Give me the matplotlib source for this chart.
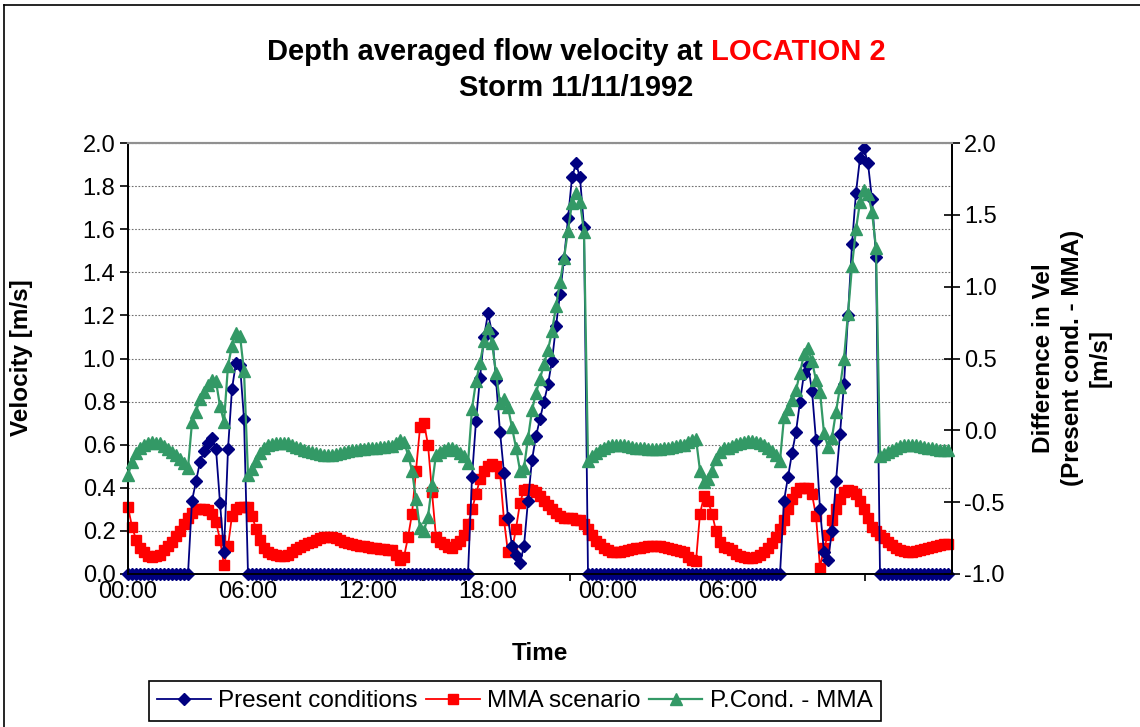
import matplotlib
matplotlib.use("Agg")
import matplotlib.pyplot as plt
import numpy as np
from matplotlib.lines import Line2D
from matplotlib.ticker import FixedLocator, FormatStrFormatter

plt.rcParams["font.family"] = ["Liberation Sans", "DejaVu Sans"]
plt.rcParams["axes.unicode_minus"] = False

# Records every 12 minutes, starting 11/11/1992 00:00
STEP_HOURS = 0.2

# Depth averaged velocity [m/s], present conditions
present = [
    0.0, 0.0, 0.0, 0.0, 0.0, 0.0, 0.0, 0.0, 0.0, 0.0,
    0.0, 0.0, 0.0, 0.0, 0.0, 0.0, 0.34, 0.43, 0.52, 0.57,
    0.61, 0.63, 0.58, 0.33, 0.10, 0.58, 0.86, 0.98, 0.97, 0.72,
    0.0, 0.0, 0.0, 0.0, 0.0, 0.0, 0.0, 0.0, 0.0, 0.0,
    0.0, 0.0, 0.0, 0.0, 0.0, 0.0, 0.0, 0.0, 0.0, 0.0,
    0.0, 0.0, 0.0, 0.0, 0.0, 0.0, 0.0, 0.0, 0.0, 0.0,
    0.0, 0.0, 0.0, 0.0, 0.0, 0.0, 0.0, 0.0, 0.0, 0.0,
    0.0, 0.0, 0.0, 0.0, 0.0, 0.0, 0.0, 0.0, 0.0, 0.0,
    0.0, 0.0, 0.0, 0.0, 0.0, 0.0, 0.45, 0.71, 0.91, 1.10,
    1.21, 1.12, 0.90, 0.66, 0.47, 0.26, 0.13, 0.09, 0.05, 0.13,
    0.34, 0.53, 0.64, 0.72, 0.80, 0.88, 0.99, 1.15, 1.30, 1.46,
    1.65, 1.84, 1.905, 1.84, 1.61, 0.0, 0.0, 0.0, 0.0, 0.0,
    0.0, 0.0, 0.0, 0.0, 0.0, 0.0, 0.0, 0.0, 0.0, 0.0,
    0.0, 0.0, 0.0, 0.0, 0.0, 0.0, 0.0, 0.0, 0.0, 0.0,
    0.0, 0.0, 0.0, 0.0, 0.0, 0.0, 0.0, 0.0, 0.0, 0.0,
    0.0, 0.0, 0.0, 0.0, 0.0, 0.0, 0.0, 0.0, 0.0, 0.0,
    0.0, 0.0, 0.0, 0.0, 0.34, 0.45, 0.56, 0.66, 0.80, 0.93,
    0.97, 0.85, 0.62, 0.30, 0.10, 0.065, 0.20, 0.43, 0.65, 0.88,
    1.20, 1.53, 1.77, 1.93, 1.975, 1.905, 1.74, 1.47, 0.0, 0.0,
    0.0, 0.0, 0.0, 0.0, 0.0, 0.0, 0.0, 0.0, 0.0, 0.0,
    0.0, 0.0, 0.0, 0.0, 0.0, 0.0,
]

# Depth averaged velocity [m/s], MMA scenario
mma = [
    0.31, 0.22, 0.16, 0.12, 0.10, 0.085, 0.08, 0.085, 0.09, 0.11,
    0.13, 0.15, 0.175, 0.20, 0.23, 0.26, 0.285, 0.30, 0.30, 0.30,
    0.295, 0.28, 0.24, 0.16, 0.04, 0.13, 0.27, 0.30, 0.31, 0.31,
    0.31, 0.27, 0.21, 0.16, 0.12, 0.10, 0.095, 0.09, 0.085, 0.085,
    0.09, 0.10, 0.115, 0.125, 0.135, 0.145, 0.15, 0.16, 0.165, 0.17,
    0.17, 0.17, 0.165, 0.16, 0.15, 0.145, 0.14, 0.135, 0.13, 0.13,
    0.125, 0.12, 0.12, 0.115, 0.115, 0.11, 0.11, 0.09, 0.065, 0.08,
    0.17, 0.28, 0.48, 0.68, 0.70, 0.60, 0.38, 0.17, 0.15, 0.14,
    0.125, 0.12, 0.14, 0.155, 0.18, 0.23, 0.30, 0.37, 0.44, 0.48,
    0.50, 0.51, 0.50, 0.47, 0.25, 0.10, 0.11, 0.21, 0.33, 0.39,
    0.395, 0.39, 0.38, 0.36, 0.34, 0.32, 0.30, 0.285, 0.27, 0.26,
    0.26, 0.26, 0.25, 0.25, 0.23, 0.21, 0.18, 0.155, 0.14, 0.12,
    0.11, 0.10, 0.10, 0.10, 0.105, 0.11, 0.115, 0.12, 0.12, 0.125,
    0.13, 0.13, 0.13, 0.13, 0.125, 0.12, 0.115, 0.11, 0.105, 0.10,
    0.08, 0.065, 0.06, 0.28, 0.36, 0.34, 0.28, 0.20, 0.15, 0.125,
    0.12, 0.11, 0.095, 0.085, 0.08, 0.075, 0.075, 0.08, 0.09, 0.10,
    0.12, 0.145, 0.17, 0.21, 0.25, 0.30, 0.35, 0.38, 0.40, 0.40,
    0.40, 0.37, 0.27, 0.03, 0.12, 0.18, 0.25, 0.30, 0.35, 0.38,
    0.39, 0.385, 0.37, 0.34, 0.30, 0.26, 0.22, 0.20, 0.18, 0.165,
    0.15, 0.135, 0.12, 0.11, 0.105, 0.10, 0.10, 0.105, 0.11, 0.115,
    0.12, 0.125, 0.13, 0.135, 0.14, 0.14,
]

time_tick_hours = [0, 6, 12, 18, 24, 30]
time_tick_labels = ["00:00", "06:00", "12:00", "18:00", "00:00", "06:00"]

series_names = ["Present conditions", "MMA scenario", "P.Cond. - MMA"]

hours = np.arange(len(present)) * STEP_HOURS
difference = np.array(present) - np.array(mma)

W, H = 1140, 727
fig = plt.figure(figsize=(W / 100, H / 100), dpi=100)
fig.patch.set_facecolor("white")

# chart-area frame
fig.add_artist(Line2D([4 / W, 1.0], [1 - 5 / H, 1 - 5 / H], color="black", lw=1.2))
fig.add_artist(Line2D([4 / W, 4 / W], [0.0, 1 - 5 / H], color="black", lw=1.2))

ax = fig.add_axes([128 / W, 153 / H, 824 / W, 431 / H])
ax2 = ax.twinx()

BLUE, RED, GREEN = "#000080", "#FF0000", "#339966"

l1, = ax.plot(hours, present, color=BLUE, lw=1.3, marker="D", ms=6.3,
              mec=BLUE, mfc=BLUE, clip_on=False, zorder=3)
l2, = ax.plot(hours, mma, color=RED, lw=1.3, marker="s", ms=6.5,
              mec=RED, mfc=RED, clip_on=False, zorder=2)
l3, = ax2.plot(hours, difference, color=GREEN, lw=1.6, marker="^", ms=8.5,
               mec=GREEN, mfc=GREEN, clip_on=False, zorder=3)

ax.set_xlim(0, 41.2)
ax.set_ylim(0, 2.0)
ax2.set_ylim(-1.0, 2.0)

# horizontal gridlines on the velocity axis
ax.set_yticks(np.arange(0, 2.01, 0.2))
ax.yaxis.set_major_formatter(FormatStrFormatter("%.1f"))
ax.yaxis.grid(True, linestyle=(0, (1.5, 1.5)), color="#707070", lw=0.8)
ax.set_axisbelow(True)

ax2.set_yticks(np.arange(-1.0, 2.01, 0.5))
ax2.yaxis.set_major_formatter(FormatStrFormatter("%.1f"))

# time labels every six hours, tick marks on their own spacing
ax.set_xticks(time_tick_hours)
ax.set_xticklabels(time_tick_labels)
ax.xaxis.set_minor_locator(FixedLocator(np.arange(0, 41.2, 7.37)))
ax.tick_params(axis="x", which="major", length=0, pad=5, labelsize=17)
ax.tick_params(axis="x", which="minor", length=5, width=1.2, direction="out")
ax.tick_params(axis="y", which="major", length=6, width=1.2, direction="out",
               pad=3, labelsize=17)
ax2.tick_params(axis="y", which="major", length=11, width=1.2, direction="inout",
                pad=3, labelsize=17)

for a in (ax, ax2):
    a.spines["top"].set_color("#909090")
    a.spines["top"].set_linewidth(1.5)
    for s in ("left", "right", "bottom"):
        a.spines[s].set_color("black")
        a.spines[s].set_linewidth(1.3)
ax.set_facecolor("white")

# titles, built from two coloured parts on the first line
TITLE_SIZE = 21
y1 = 1 - 52 / H
t1 = fig.text(0, y1, "Depth averaged flow velocity at", fontsize=TITLE_SIZE,
              fontweight="bold", ha="left", va="center", color="black")
t2 = fig.text(0, y1, "LOCATION 2", fontsize=TITLE_SIZE, fontweight="bold",
              ha="left", va="center", color="#FF0000")
renderer = fig.canvas.get_renderer()
w1 = t1.get_window_extent(renderer).width
w2 = t2.get_window_extent(renderer).width
gap = 0.278 * TITLE_SIZE * 100 / 72
start = 576 - (w1 + gap + w2) / 2
t1.set_x(start / W)
t2.set_x((start + w1 + gap) / W)
fig.text(576 / W, 1 - 88 / H, "Storm 11/11/1992", fontsize=TITLE_SIZE,
         fontweight="bold", ha="center", va="center")

fig.text(540 / W, 1 - 653 / H, "Time", fontsize=17.5, fontweight="bold",
         ha="center", va="center")
fig.text(22 / W, 1 - 358 / H, "Velocity [m/s]", fontsize=17.5, fontweight="bold",
         ha="center", va="center", rotation=90)
fig.text(1072 / W, 1 - 358 / H, "Difference in Vel\n(Present cond. - MMA)\n[m/s]",
         fontsize=17.5, fontweight="bold", ha="center", va="center",
         rotation=90, multialignment="center", linespacing=1.3)

leg = fig.legend([l1, l2, l3], series_names, loc="center",
                 bbox_to_anchor=(515 / W, 1 - 701 / H), ncol=3, frameon=True,
                 fancybox=False, edgecolor="black", framealpha=1, fontsize=17.5,
                 handlelength=2.2, handletextpad=0.3, columnspacing=0.35,
                 borderpad=0.35, borderaxespad=0)
leg.get_frame().set_linewidth(1.2)

fig.savefig("out.png", dpi=100, facecolor="white")
